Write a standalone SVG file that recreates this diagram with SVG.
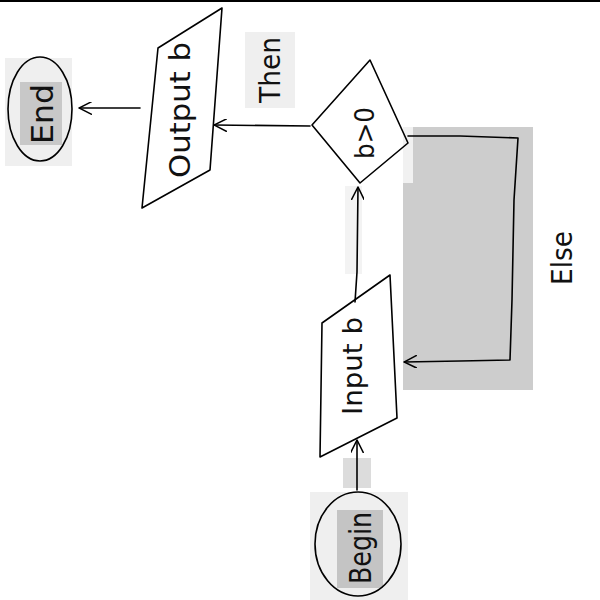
<svg xmlns="http://www.w3.org/2000/svg" width="600" height="600" viewBox="0 0 600 600">
<defs>
<style>
.ln{fill:none;stroke:#000;stroke-width:1.6;stroke-linejoin:round;stroke-linecap:round}
.lab{font-family:"DejaVu Sans","Liberation Sans",sans-serif;fill:#111;text-anchor:middle;dominant-baseline:central}
.lite{fill:#efefef}
.dark{fill:#cdcdcd}
</style>
<marker id="ah" viewBox="0 0 12 12" refX="12" refY="6" markerWidth="13" markerHeight="13" markerUnits="userSpaceOnUse" orient="auto">
<path d="M0,0 L12,6 L0,12" fill="none" stroke="#000" stroke-width="1.4"/>
</marker>
</defs>
<rect width="600" height="600" fill="#fff"/>
<rect x="0" y="0" width="600" height="2" fill="#000"/>

<g id="else-label-bg">
<rect x="403" y="127" width="130" height="263" class="dark"/>
<rect x="403" y="127" width="10" height="56" fill="#f1f1f1"/>
</g>

<g id="connectors">
<rect x="345" y="186" width="17" height="88" fill="#f3f3f3"/>
<rect x="343" y="458" width="28" height="30" fill="#dcdcdc"/>
<path class="ln" d="M357,490 L357,440" marker-end="url(#ah)"/>
<path class="ln" d="M355,302 L357,272 L358,187" marker-end="url(#ah)"/>
<path class="ln" d="M310,126 L214,125" marker-end="url(#ah)"/>
<path class="ln" d="M140,108 L79,108" marker-end="url(#ah)"/>
<path class="ln" d="M408,136 L460,136 L518,138 L514,200 L512,300 L510,360 L460,361 L404,362" marker-end="url(#ah)"/>
<g id="label-then">
<rect x="245" y="32" width="50" height="76" class="lite"/>
<text class="lab" font-size="28" transform="translate(270,70) rotate(-90)" textLength="66" lengthAdjust="spacingAndGlyphs">Then</text>
</g>
<g id="label-else">
<text class="lab" font-size="28" transform="translate(562,258) rotate(-90)" textLength="54" lengthAdjust="spacingAndGlyphs">Else</text>
</g>
</g>

<g id="begin">
<rect x="310" y="492" width="98" height="108" class="lite"/>
<rect x="337" y="510" width="46" height="78" fill="#c4c4c4"/>
<ellipse class="ln" cx="358" cy="544" rx="43" ry="52"/>
<text class="lab" font-size="30" transform="translate(360,548) rotate(-90)" textLength="72" lengthAdjust="spacingAndGlyphs">Begin</text>
</g>

<g id="input">
<path class="ln" d="M322,323 L390,275 L397,418 L320,457 Z"/>
<text class="lab" font-size="26" transform="translate(353,366) rotate(-90)" textLength="98" lengthAdjust="spacingAndGlyphs">Input b</text>
</g>

<g id="decision">
<path class="ln" d="M370,60 L408,143 L360,183 L312,125 Z"/>
<text class="lab" font-size="26" transform="translate(365,133) rotate(-90)" textLength="52" lengthAdjust="spacingAndGlyphs">b&gt;0</text>
</g>

<g id="output">
<path class="ln" d="M158,48 L222,8 L210,170 L142,208 Z"/>
<text class="lab" font-size="28" transform="translate(180,110) rotate(-90)" textLength="136" lengthAdjust="spacingAndGlyphs">Output b</text>
</g>

<g id="end">
<rect x="5" y="58" width="67" height="108" class="lite"/>
<rect x="20" y="82" width="42" height="63" fill="#c8c8c8"/>
<ellipse class="ln" cx="40" cy="109" rx="32" ry="52"/>
<text class="lab" font-size="30" transform="translate(42,114) rotate(-90)" textLength="60" lengthAdjust="spacingAndGlyphs">End</text>
</g>
</svg>
